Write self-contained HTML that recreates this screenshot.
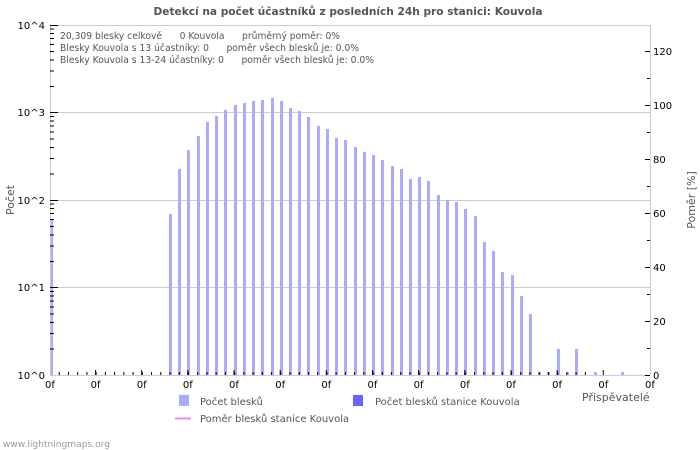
<!DOCTYPE html>
<html><head><meta charset="utf-8"><style>
html,body{margin:0;padding:0;background:#fff;}
svg{display:block;font-family:"DejaVu Sans","Liberation Sans",sans-serif;}
.pre{white-space:pre;}
</style></head><body>
<svg width="700" height="450" viewBox="0 0 700 450" xmlns="http://www.w3.org/2000/svg">
<rect width="700" height="450" fill="#fff"/>
<text x="348" y="15" text-anchor="middle" font-size="11" font-weight="bold" fill="#555" textLength="389" lengthAdjust="spacingAndGlyphs">Detekcí na počet účastníků z posledních 24h pro stanici: Kouvola</text>
<g stroke="#cccccc" stroke-width="1">
<line x1="50" y1="25.5" x2="650" y2="25.5"/>
<line x1="50" y1="112.5" x2="650" y2="112.5"/>
<line x1="50" y1="200.5" x2="650" y2="200.5"/>
<line x1="50" y1="287.5" x2="650" y2="287.5"/>
<line x1="650.5" y1="25" x2="650.5" y2="375"/>
<line x1="50.5" y1="25" x2="50.5" y2="375"/>
</g>
<g fill="#aaaaff">
<rect x="51" y="220" width="2" height="155"/>
<rect x="169" y="214" width="3" height="161"/>
<rect x="178" y="169" width="3" height="206"/>
<rect x="187" y="150" width="3" height="225"/>
<rect x="197" y="136" width="3" height="239"/>
<rect x="206" y="122" width="3" height="253"/>
<rect x="215" y="116" width="3" height="259"/>
<rect x="224" y="110" width="3" height="265"/>
<rect x="234" y="105" width="3" height="270"/>
<rect x="243" y="103" width="3" height="272"/>
<rect x="252" y="101" width="3" height="274"/>
<rect x="261" y="100" width="3" height="275"/>
<rect x="271" y="98" width="3" height="277"/>
<rect x="280" y="101" width="3" height="274"/>
<rect x="289" y="108" width="3" height="267"/>
<rect x="298" y="111" width="3" height="264"/>
<rect x="307" y="117" width="3" height="258"/>
<rect x="317" y="126" width="3" height="249"/>
<rect x="326" y="129" width="3" height="246"/>
<rect x="335" y="138" width="3" height="237"/>
<rect x="344" y="140" width="3" height="235"/>
<rect x="354" y="147" width="3" height="228"/>
<rect x="363" y="152" width="3" height="223"/>
<rect x="372" y="155" width="3" height="220"/>
<rect x="381" y="160" width="3" height="215"/>
<rect x="391" y="166" width="3" height="209"/>
<rect x="400" y="169" width="3" height="206"/>
<rect x="409" y="179" width="3" height="196"/>
<rect x="418" y="177" width="3" height="198"/>
<rect x="427" y="181" width="3" height="194"/>
<rect x="437" y="195" width="3" height="180"/>
<rect x="446" y="200" width="3" height="175"/>
<rect x="455" y="202" width="3" height="173"/>
<rect x="464" y="209" width="3" height="166"/>
<rect x="474" y="216" width="3" height="159"/>
<rect x="483" y="242" width="3" height="133"/>
<rect x="492" y="251" width="3" height="124"/>
<rect x="501" y="272" width="3" height="103"/>
<rect x="511" y="275" width="3" height="100"/>
<rect x="520" y="296" width="3" height="79"/>
<rect x="529" y="314" width="3" height="61"/>
<rect x="538" y="372" width="3" height="3"/>
<rect x="547" y="372" width="3" height="3"/>
<rect x="557" y="349" width="3" height="26"/>
<rect x="566" y="372" width="3" height="3"/>
<rect x="575" y="349" width="3" height="26"/>
<rect x="594" y="372" width="3" height="3"/>
<rect x="621" y="372" width="3" height="3"/>
</g>
<line x1="50" y1="375.5" x2="650" y2="375.5" stroke="#ccccdd"/>
<path d="M59.23,375v-3m9.23,3v-3m9.23,3v-3m9.23,3v-3m9.23,3v-3m9.23,3v-3m9.23,3v-3m9.23,3v-3m9.23,3v-3m9.23,3v-3m9.23,3v-3m9.23,3v-3m9.23,3v-3m9.23,3v-3m9.23,3v-3m9.23,3v-3m9.23,3v-3m9.23,3v-3m9.23,3v-3m9.23,3v-3m9.23,3v-3m9.23,3v-3m9.23,3v-3m9.23,3v-3m9.23,3v-3m9.23,3v-3m9.23,3v-3m9.23,3v-3m9.23,3v-3m9.23,3v-3m9.23,3v-3m9.23,3v-3m9.23,3v-3m9.23,3v-3m9.23,3v-3m9.23,3v-3m9.23,3v-3m9.23,3v-3m9.23,3v-3m9.23,3v-3m9.23,3v-3m9.23,3v-3m9.23,3v-3m9.23,3v-3m9.23,3v-3m9.23,3v-3m9.23,3v-3m9.23,3v-3m9.23,3v-3m9.23,3v-3m9.23,3v-3m9.23,3v-3m9.23,3v-3m9.23,3v-3m9.23,3v-3m9.23,3v-3m9.23,3v-3m9.23,3v-3" stroke="#000" stroke-width="1" fill="none"/>
<path d="M95.6,375v-5M141.7,375v-5M187.8,375v-5M234,375v-5M280.2,375v-5M326.3,375v-5M372.5,375v-5M418.6,375v-5M464.8,375v-5M511,375v-5M557.1,375v-5M603.3,375v-5" stroke="#000" fill="none"/>
<g font-size="10" fill="#000" text-anchor="middle">
<text x="50" y="388">0f</text><text x="95.6" y="388">0f</text><text x="141.7" y="388">0f</text><text x="187.8" y="388">0f</text><text x="234" y="388">0f</text><text x="280.2" y="388">0f</text><text x="326.3" y="388">0f</text><text x="372.5" y="388">0f</text><text x="418.6" y="388">0f</text><text x="464.8" y="388">0f</text><text x="511" y="388">0f</text><text x="557.1" y="388">0f</text><text x="603.3" y="388">0f</text><text x="650" y="388">0f</text>
</g>
<g stroke="#000" fill="none">
<path d="M50,25.5h8M50,112.5h8M50,200.5h8M50,287.5h8"/>
<path d="M50,349h4M50,333.5h4M50,322.5h4M50,314h4M50,307h4M50,301h4M50,296h4M50,291.5h4
M50,261.5h4M50,246h4M50,235h4M50,226.5h4M50,219.5h4M50,213.5h4M50,208.5h4M50,204h4
M50,174h4M50,158.5h4M50,147.5h4M50,139h4M50,132h4M50,126h4M50,121h4M50,116.5h4
M50,86.5h4M50,71h4M50,60h4M50,51.5h4M50,44.5h4M50,38.5h4M50,33.5h4M50,29h4"/>
</g>
<g font-size="10" fill="#000" text-anchor="end">
<text x="45" y="29">10^4</text><text x="45" y="116">10^3</text><text x="45" y="204">10^2</text><text x="45" y="291">10^1</text><text x="45" y="379">10^0</text>
</g>
<text transform="translate(14,200) rotate(-90)" font-size="11" fill="#555" text-anchor="middle">Počet</text>
<g stroke="#000" fill="none">
<path d="M645,375.5h5M645,321.5h5M645,267.5h5M645,213.5h5M645,159.5h5M645,105.5h5M645,51.5h5"/>
<path d="M647,348.5h3M647,294.5h3M647,240.5h3M647,186.5h3M647,132.5h3M647,78.5h3"/>
</g>
<g font-size="10" fill="#000">
<text x="653" y="379">0</text><text x="653" y="325">20</text><text x="653" y="271">40</text><text x="653" y="217">60</text><text x="653" y="163">80</text><text x="653" y="109">100</text><text x="653" y="55">120</text>
</g>
<text transform="translate(695,200) rotate(-90)" font-size="11" fill="#555" text-anchor="middle">Poměr [%]</text>
<g font-size="10" fill="#555" class="pre">
<text x="60" y="39" xml:space="preserve" textLength="280" lengthAdjust="spacingAndGlyphs">20,309 blesky celkově      0 Kouvola      průměrný poměr: 0%</text>
<text x="60" y="51" xml:space="preserve" textLength="299" lengthAdjust="spacingAndGlyphs">Blesky Kouvola s 13 účastníky: 0      poměr všech blesků je: 0.0%</text>
<text x="60" y="63" xml:space="preserve" textLength="314" lengthAdjust="spacingAndGlyphs">Blesky Kouvola s 13-24 účastníky: 0      poměr všech blesků je: 0.0%</text>
</g>
<rect x="179" y="395" width="10" height="11" fill="#aaaaff"/>
<text x="200" y="405" font-size="10" fill="#555">Počet blesků</text>
<rect x="353" y="395" width="10" height="11" fill="#6666ff"/>
<text x="375" y="405" font-size="10" fill="#555">Počet blesků stanice Kouvola</text>
<line x1="175" y1="418.5" x2="191" y2="418.5" stroke="#ee88ee" stroke-width="2"/>
<text x="200" y="422" font-size="10" fill="#555">Poměr blesků stanice Kouvola</text>
<text x="582" y="401" font-size="11" fill="#555">Přispěvatelé</text>
<text x="3" y="447" font-size="9" fill="#999" textLength="107" lengthAdjust="spacingAndGlyphs">www.lightningmaps.org</text>
</svg>
</body></html>
